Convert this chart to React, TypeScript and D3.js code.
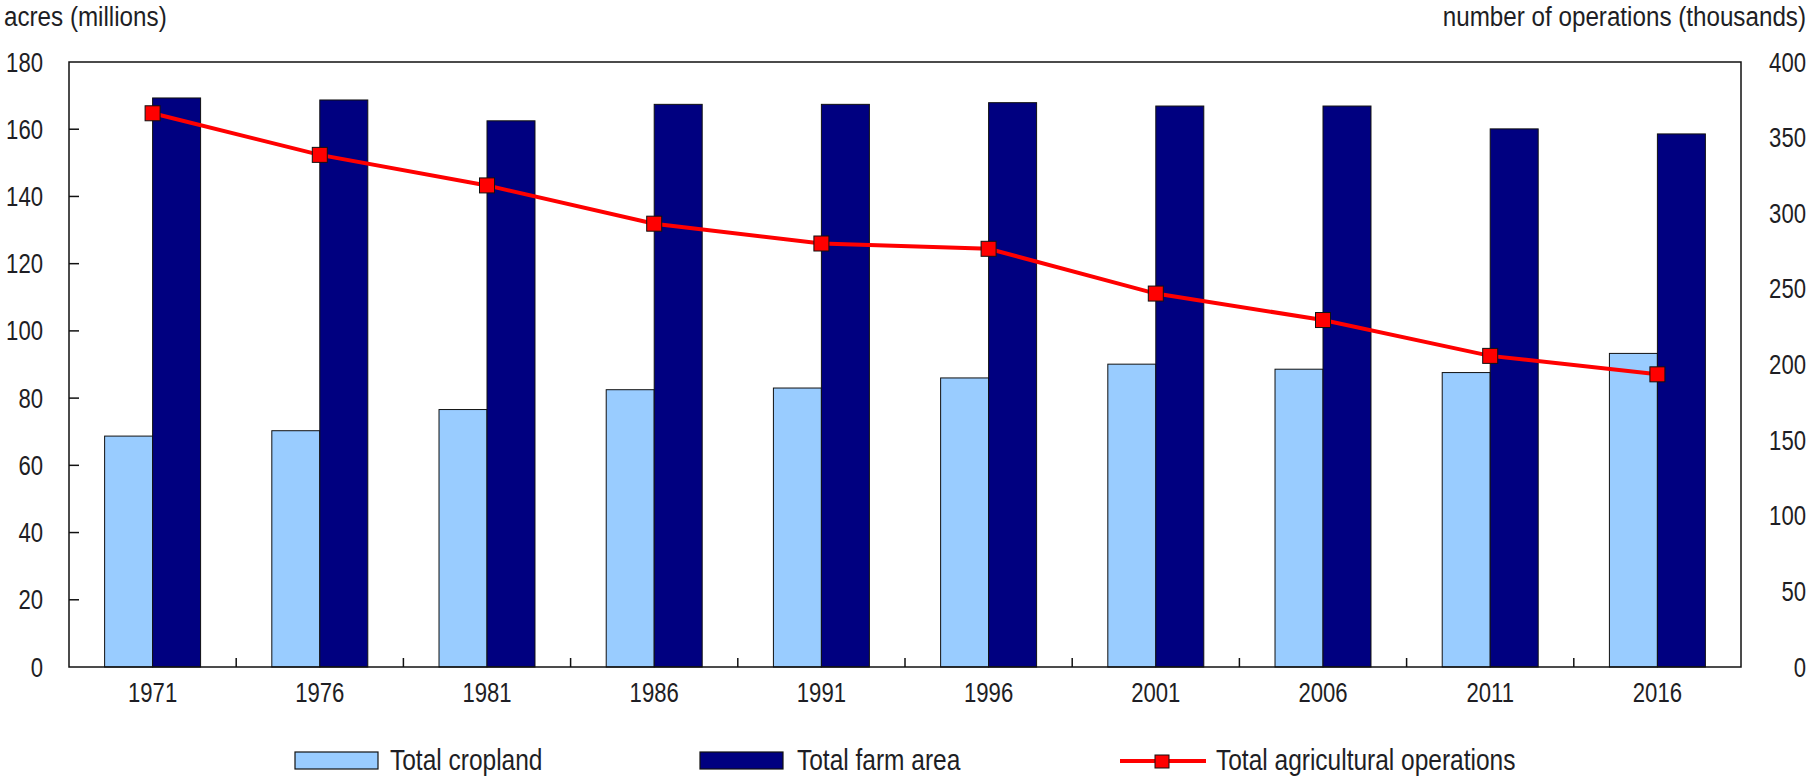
import React from "react";
import * as d3 from "d3";

// Census years and series
const years = ["1971", "1976", "1981", "1986", "1991", "1996", "2001", "2006", "2011", "2016"];
const cropland = [68.7, 70.3, 76.6, 82.5, 83.0, 86.0, 90.1, 88.6, 87.6, 93.3]; // acres, millions
const farmArea = [169.3, 168.7, 162.5, 167.4, 167.4, 167.9, 166.9, 166.9, 160.1, 158.6]; // acres, millions
const operations = [366.1, 338.6, 318.4, 293.1, 280.0, 276.5, 246.9, 229.4, 205.7, 193.5]; // thousands

const leftTicks = [0, 20, 40, 60, 80, 100, 120, 140, 160, 180];
const rightTicks = [0, 50, 100, 150, 200, 250, 300, 350, 400];

const W = 1812;
const H = 778;
const plot = { left: 69, right: 1741, top: 62, bottom: 667 };

const FONT = "'Liberation Sans Narrow', 'Arial Narrow', 'Liberation Sans', Arial, sans-serif";
const TEXT = "#1e1e24";
const LIGHT = "#99ccff";
const DARK = "#000080";
const RED = "#ff0000";

type TProps = {
  x: number;
  y: number;
  size: number;
  squeeze?: number;
  anchor?: "start" | "middle" | "end";
  children: React.ReactNode;
};

// Text drawn horizontally condensed around its anchor point
function NText({ x, y, size, squeeze = 0.82, anchor = "start", children }: TProps) {
  return (
    <text
      transform={`translate(${x},${y}) scale(${squeeze},1)`}
      fontSize={size}
      fill={TEXT}
      textAnchor={anchor}
    >
      {children}
    </text>
  );
}

export default function App() {
  const x = d3.scaleBand<string>().domain(years).range([plot.left, plot.right]).padding(0);
  const yL = d3.scaleLinear().domain([0, 180]).range([plot.bottom, plot.top]);
  const yR = d3.scaleLinear().domain([0, 400]).range([plot.bottom, plot.top]);
  const barW = x.bandwidth() * 0.287;
  const center = (c: string) => (x(c) as number) + x.bandwidth() / 2;

  const line = d3
    .line<number>()
    .x((_, i) => center(years[i]))
    .y((d) => yR(d));

  const boundaries = years.slice(1).map((c) => x(c) as number);
  const mk = 15;

  return (
    <svg
      width={W}
      height={H}
      style={{ position: "absolute", left: 0, top: 0, background: "#fff" }}
      fontFamily={FONT}
    >
      <rect x={0} y={0} width={W} height={H} fill="#fff" />

      {/* axis titles */}
      <NText x={4} y={26} size={28} squeeze={0.865}>
        acres (millions)
      </NText>
      <NText x={1806} y={26} size={28} squeeze={0.865} anchor="end">
        number of operations (thousands)
      </NText>

      {/* bars */}
      {years.map((c, i) => (
        <g key={c}>
          <rect
            x={center(c) - barW}
            y={yL(cropland[i])}
            width={barW}
            height={yL(0) - yL(cropland[i])}
            fill={LIGHT}
            stroke="#111"
            strokeWidth={1}
          />
          <rect
            x={center(c)}
            y={yL(farmArea[i])}
            width={barW}
            height={yL(0) - yL(farmArea[i])}
            fill={DARK}
            stroke="#111"
            strokeWidth={1}
          />
        </g>
      ))}

      {/* frame */}
      <rect
        x={plot.left}
        y={plot.top}
        width={plot.right - plot.left}
        height={plot.bottom - plot.top}
        fill="none"
        stroke="#111"
        strokeWidth={1.5}
      />

      {/* left ticks (inward) and labels */}
      {leftTicks.map((t) => (
        <g key={"l" + t}>
          {t > 0 && t < 180 && (
            <line x1={plot.left} x2={plot.left + 10} y1={yL(t)} y2={yL(t)} stroke="#111" strokeWidth={1.5} />
          )}
          <NText x={43} y={yL(t) + 9.5} size={27} anchor="end">
            {t}
          </NText>
        </g>
      ))}

      {/* right labels */}
      {rightTicks.map((t) => (
        <NText key={"r" + t} x={1806} y={yR(t) + 9.5} size={27} anchor="end">
          {t}
        </NText>
      ))}

      {/* category boundary ticks */}
      {boundaries.map((bx) => (
        <line key={"b" + bx} x1={bx} x2={bx} y1={plot.bottom} y2={plot.bottom - 9} stroke="#111" strokeWidth={1.5} />
      ))}

      {/* category labels */}
      {years.map((c) => (
        <NText key={"x" + c} x={center(c)} y={702} size={27} anchor="middle">
          {c}
        </NText>
      ))}

      {/* operations line */}
      <path d={line(operations) || ""} fill="none" stroke={RED} strokeWidth={4} />
      {operations.map((v, i) => (
        <rect
          key={"m" + i}
          x={center(years[i]) - mk / 2}
          y={yR(v) - mk / 2}
          width={mk}
          height={mk}
          fill={RED}
          stroke="#111"
          strokeWidth={1}
        />
      ))}

      {/* legend */}
      <rect x={295} y={752} width={83} height={17} fill={LIGHT} stroke="#111" strokeWidth={1.2} />
      <NText x={390} y={770} size={29} squeeze={0.845}>
        Total cropland
      </NText>
      <rect x={700} y={752} width={83} height={17} fill={DARK} stroke="#111" strokeWidth={1.2} />
      <NText x={797} y={770} size={29} squeeze={0.845}>
        Total farm area
      </NText>
      <line x1={1120} x2={1206} y1={761} y2={761} stroke={RED} strokeWidth={4} />
      <rect x={1155} y={755} width={14} height={13} fill={RED} stroke="#111" strokeWidth={1} />
      <NText x={1216} y={770} size={29} squeeze={0.845}>
        Total agricultural operations
      </NText>
    </svg>
  );
}
